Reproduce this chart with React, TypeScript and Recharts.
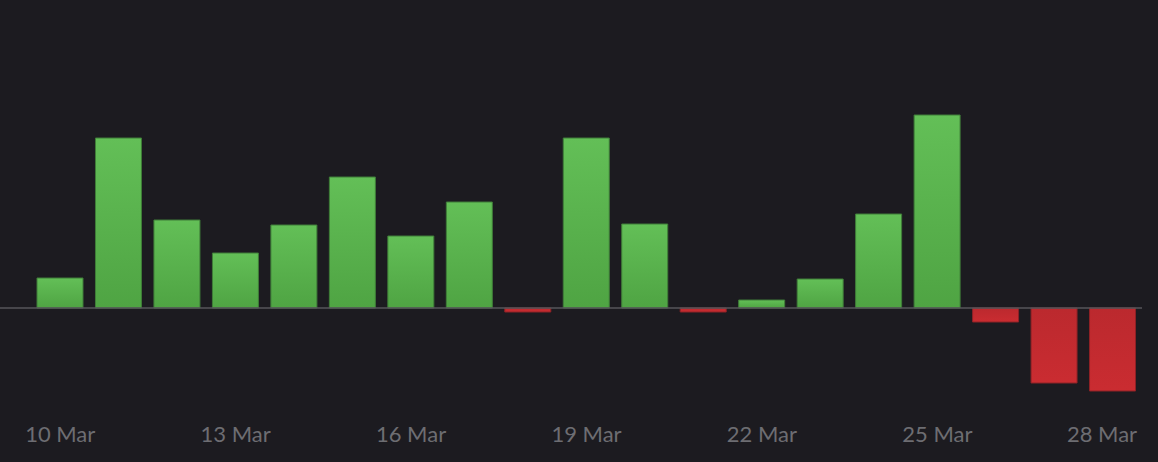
import React from "react";
import {
  BarChart,
  Bar,
  Cell,
  XAxis,
  YAxis,
  ReferenceLine,
} from "recharts";

const days = [
  "10 Mar", "11 Mar", "12 Mar", "13 Mar", "14 Mar", "15 Mar", "16 Mar",
  "17 Mar", "18 Mar", "19 Mar", "20 Mar", "21 Mar", "22 Mar", "23 Mar",
  "24 Mar", "25 Mar", "26 Mar", "27 Mar", "28 Mar",
];

const pnl = [
  30, 170, 88, 55, 83, 131, 72, 106, -4, 170,
  84, -4, 8, 29, 94, 193, -14, -75, -83,
];

const data = days.map((day, i) => ({ day, value: pnl[i] }));

const WIDTH = 1158;
const HEIGHT = 462;
const BG = "#1c1b20";

const DayTick = (props: any) => {
  const { x, y, payload } = props;
  // keep the last label inside the canvas, like the original does
  const half = 35;
  const cx = Math.min(x, WIDTH - 21 - half);
  return (
    <text
      x={cx}
      y={y + 34}
      textAnchor="middle"
      fill="#6d6d72"
      fontSize={22}
      fontFamily="Lato, sans-serif"
    >
      {payload.value}
    </text>
  );
};

export default function App() {
  return (
    <div
      style={{
        position: "fixed",
        left: 0,
        top: 0,
        width: WIDTH,
        height: HEIGHT,
        background: BG,
      }}
    >
      <BarChart
        width={WIDTH}
        height={HEIGHT}
        data={data}
        margin={{ top: 108, right: 16, bottom: 24, left: 0 }}
      >
        <defs>
          <linearGradient id="gainFill" x1="0" y1="0" x2="0" y2="1">
            <stop offset="0%" stopColor="#63bf57" />
            <stop offset="100%" stopColor="#4fa443" />
          </linearGradient>
          <linearGradient id="lossFill" x1="0" y1="0" x2="0" y2="1">
            <stop offset="0%" stopColor="#bb292e" />
            <stop offset="100%" stopColor="#ca2c31" />
          </linearGradient>
        </defs>
        <XAxis
          dataKey="day"
          axisLine={false}
          tickLine={false}
          tickSize={0}
          tickMargin={0}
          height={30}
          interval={2}
          padding={{ left: 31, right: 0 }}
          tick={<DayTick />}
        />
        <YAxis hide domain={[-100, 200]} />
        <Bar dataKey="value" barSize={46} isAnimationActive={false}>
          {data.map((d) => (
            <Cell
              key={d.day}
              fill={d.value >= 0 ? "url(#gainFill)" : "url(#lossFill)"}
              stroke={d.value >= 0 ? "#3f7d38" : "#8e2226"}
              strokeWidth={1}
            />
          ))}
        </Bar>
        <ReferenceLine y={0} stroke="#56565a" strokeWidth={1.5} />
      </BarChart>
    </div>
  );
}
